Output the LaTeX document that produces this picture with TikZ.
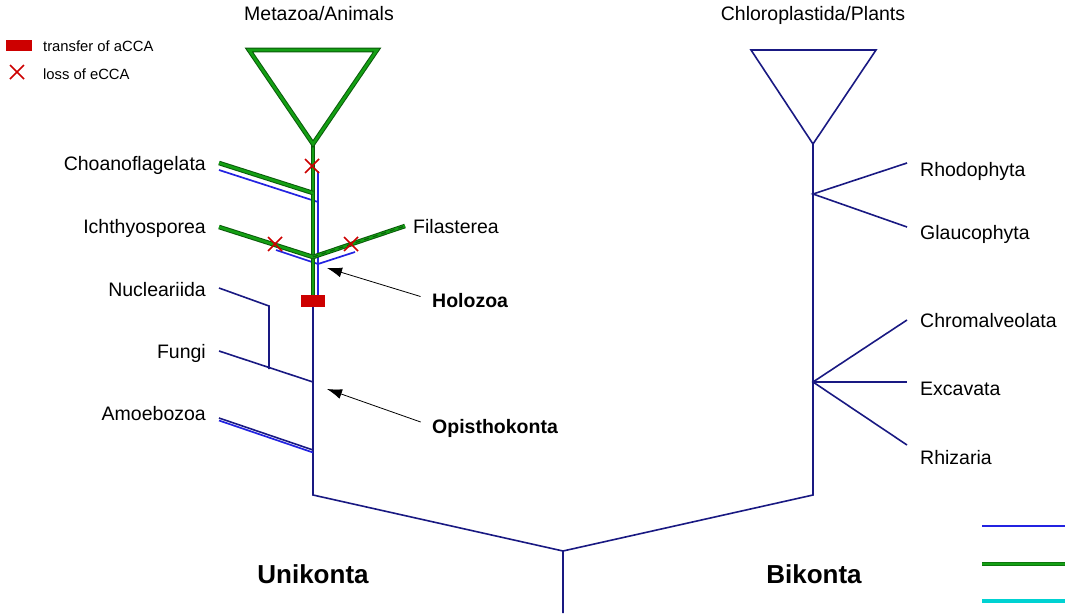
\documentclass[tikz,border=0pt]{standalone}
\usepackage{fontspec}
\setmainfont{Liberation Sans}
\usetikzlibrary{arrows.meta}

\begin{document}
\begin{tikzpicture}[x=1pt,y=-1pt]
  % colors close to the figure
  \definecolor{treenavy}{RGB}{25,25,130}
  \definecolor{lineblue}{RGB}{35,35,225}
  \definecolor{cladegreen}{RGB}{20,160,20}
  \definecolor{edgegreen}{RGB}{10,90,10}
  \definecolor{markred}{RGB}{205,0,0}
  \definecolor{linecyan}{RGB}{0,210,210}

  \tikzset{
    navybranch/.style={draw=treenavy, line width=1.6pt},
    bluebranch/.style={draw=lineblue, line width=1.7pt},
    greenbranch/.style={draw=edgegreen, line width=4.6pt, line join=miter,
      postaction={draw=cladegreen, line width=2.6pt}},
    taxon/.style={inner sep=0pt, text height=14pt, text depth=0pt,
      font=\fontsize{19.5}{23}\selectfont},
    clade/.style={taxon, font=\bfseries\fontsize{19.5}{23}\selectfont},
    bigclade/.style={inner sep=0pt, text height=18.6pt, text depth=0pt,
      font=\bfseries\fontsize{26}{30}\selectfont},
    legendtext/.style={inner sep=0pt, text height=10.5pt, text depth=0pt,
      anchor=west, font=\fontsize{14.8}{17}\selectfont},
    pointer/.style={-{Latex[length=15pt,width=10pt]}, line width=0.8pt, shorten <=12pt},
    lossmark/.pic={\draw[markred, line width=1.6pt] (-7,-7) -- (7,7) (-7,7) -- (7,-7);}
  }

  \useasboundingbox (0,0) rectangle (1065,613);

  % branch points
  \coordinate (root)     at (563,551);
  \coordinate (rootbot)  at (563,613);
  \coordinate (unibase)  at (313,495);
  \coordinate (bibase)   at (813,495);
  \coordinate (amoebo)   at (313,450);
  \coordinate (opistho)  at (313,382);
  \coordinate (nuclfork) at (269,369);
  \coordinate (nuclbend) at (269,306);
  \coordinate (transfer) at (313,301);
  \coordinate (metapex)  at (313,144);
  \coordinate (plapex)   at (813,144);
  \coordinate (redalg)   at (813,194);
  \coordinate (chromfork) at (813,382);

  % leaf ends
  \coordinate (amoeboend) at (219,418);
  \coordinate (fungiend)  at (219,351);
  \coordinate (nuclend)   at (219,288);
  \coordinate (choanoend) at (219,163);
  \coordinate (ichthyend) at (219,227);
  \coordinate (filasend)  at (405,226);
  \coordinate (rhodoend)  at (907,163);
  \coordinate (glaucoend) at (907,227);
  \coordinate (chromend)  at (907,320);
  \coordinate (excavend)  at (907,382);
  \coordinate (rhizend)   at (907,445);

  % backbone
  \draw[navybranch] (rootbot) -- (root) -- (unibase) -- (transfer);
  \draw[navybranch] (root) -- (bibase) -- (plapex);

  % Unikonta side
  \draw[navybranch] (amoeboend) -- (amoebo);
  \draw[bluebranch] ([yshift=-2.5pt]amoeboend) -- ([yshift=-2.5pt]amoebo);
  \draw[navybranch] (fungiend) -- (opistho);
  \draw[navybranch] (nuclend) -- (nuclbend) -- (nuclfork);

  % Holozoa, blue copy
  \draw[bluebranch] (318,171) -- (318,301);
  \draw[bluebranch] (219,170) -- (318,202);
  \draw[bluebranch] (276,250) -- (318,264) -- (355,252);

  % Holozoa, green copy
  \draw[greenbranch] (transfer) -- (metapex);
  \draw[greenbranch] (choanoend) -- (313,193);
  \draw[greenbranch] (ichthyend) -- (313,257) -- (filasend);
  \draw[edgegreen, line width=1pt, dash pattern=on 5pt off 4pt] (313,257) -- (filasend);
  \draw[greenbranch] (metapex) -- (249,50) -- (377,50) -- cycle;

  % transfer and losses
  \fill[markred] (301,295) rectangle (325,307);
  \pic at (312,166) {lossmark};
  \pic at (275,244) {lossmark};
  \pic at (351,244) {lossmark};

  % Bikonta side
  \draw[navybranch, line join=miter] (plapex) -- (751,50) -- (876,50) -- cycle;
  \draw[navybranch] (rhodoend) -- (redalg) -- (glaucoend);
  \draw[navybranch] (chromend) -- (chromfork) -- (rhizend);
  \draw[navybranch] (chromfork) -- (excavend);

  % labels
  \node[taxon, anchor=east] (choanolbl) at (206,163) {Choanoflagelata};
  \node[taxon, anchor=east] (ichthylbl) at (206,226) {Ichthyosporea};
  \node[taxon, anchor=east] (nucllbl)   at (206,289) {Nucleariida};
  \node[taxon, anchor=east] (fungilbl)  at (206,351) {Fungi};
  \node[taxon, anchor=east] (amoebolbl) at (206,413) {Amoebozoa};
  \node[taxon, anchor=west] (filaslbl)  at (413,226) {Filasterea};
  \node[taxon, anchor=west] (rhodolbl)  at (920,169) {Rhodophyta};
  \node[taxon, anchor=west] (glaucolbl) at (920,232) {Glaucophyta};
  \node[taxon, anchor=west] (chromlbl)  at (920,320) {Chromalveolata};
  \node[taxon, anchor=west] (excavlbl)  at (920,388) {Excavata};
  \node[taxon, anchor=west] (rhizlbl)   at (920,457) {Rhizaria};
  \node[taxon] (metalbl)  at (319,13) {Metazoa/Animals};
  \node[taxon] (plantlbl) at (813,13) {Chloroplastida/Plants};

  \node[clade, anchor=west] (holozoalbl) at (432,300) {Holozoa};
  \node[clade, anchor=west] (opisthlbl)  at (432,426) {Opisthokonta};
  \node[bigclade] (unilbl) at (313,574) {Unikonta};
  \node[bigclade] (bilbl)  at (814,574) {Bikonta};

  \coordinate (holozoatip) at (327,268);
  \coordinate (opisthtip)  at (327,389);
  \draw[pointer] (holozoalbl.west) -- (holozoatip);
  \draw[pointer] (opisthlbl.west) -- (opisthtip);

  % legend
  \fill[markred] (6,40) rectangle (32,51);
  \node[legendtext] (transferlbl) at (43,46) {transfer of aCCA};
  \pic at (17,72) {lossmark};
  \node[legendtext] (losslbl) at (43,74) {loss of eCCA};

  % colour key lines (cut at the edge)
  \draw[lineblue, line width=2pt] (982,526) -- (1065,526);
  \draw[edgegreen!60!cladegreen, line width=4pt] (982,564) -- (1065,564);
  \draw[cladegreen, line width=2.6pt] (982,564) -- (1065,564);
  \draw[linecyan, line width=4pt] (982,601) -- (1065,601);
\end{tikzpicture}
\end{document}
